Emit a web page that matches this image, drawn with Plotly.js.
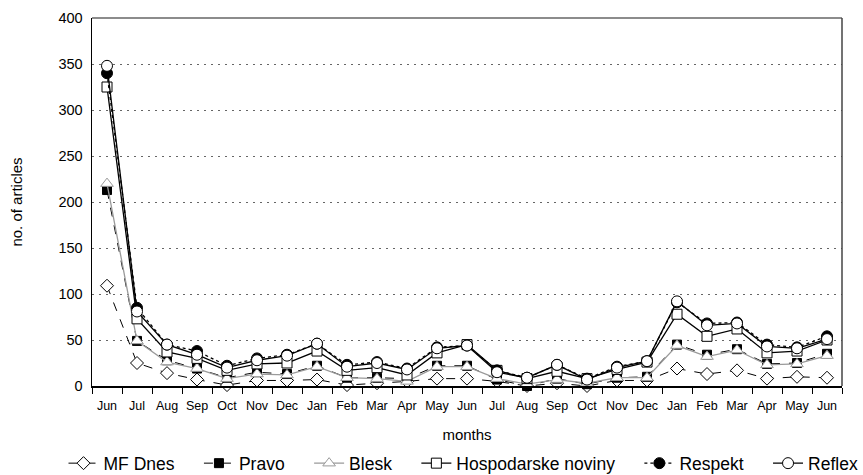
<!DOCTYPE html>
<html>
<head>
<meta charset="utf-8">
<script src="https://cdn.plot.ly/plotly-3.0.1.min.js"></script>
<style>html,body{margin:0;padding:0;background:#fff;}#chart{width:863px;height:475px;}</style>
</head>
<body>
<div id="chart"></div>
<script>
var months = ["Jun","Jul","Aug","Sep","Oct","Nov","Dec","Jan","Feb","Mar","Apr","May","Jun","Jul","Aug","Sep","Oct","Nov","Dec","Jan","Feb","Mar","Apr","May","Jun"];
var seriesNames = ["MF Dnes","Pravo","Blesk","Hospodarske noviny","Respekt","Reflex"];
var mfDnes   = [109, 25, 14, 7, 1, 6, 6, 7, 1, 3, 5, 8, 8, 5, 0, 3, 0, 6, 6, 19, 13, 17, 8, 10, 9];
var pravo    = [213, 49, 28, 19, 9, 15, 13, 22, 9, 9, 8, 22, 22, 7, 0, 8, 2, 9, 10, 45, 34, 40, 24, 25, 35];
var blesk    = [220, 49, 26, 19, 8, 13, 12, 21, 9, 8, 5, 21, 21, 8, 2, 7, 3, 9, 9, 44, 32, 39, 23, 24, 33];
var hosp     = [325, 73, 37, 30, 17, 24, 25, 38, 17, 20, 12, 36, 45, 17, 8, 16, 8, 18, 26, 78, 54, 62, 36, 38, 50];
var respekt  = [340, 85, 45, 38, 22, 30, 34, 46, 23, 26, 19, 42, 44, 17, 9, 23, 8, 21, 27, 91, 68, 69, 45, 42, 54];
var reflex   = [348, 81, 45, 34, 20, 28, 33, 46, 21, 25, 18, 41, 44, 15, 9, 23, 7, 20, 27, 92, 66, 68, 43, 41, 51];

var xIdx = months.map(function(m, i){ return i; });
var pad = '\u00a0\u00a0\u00a0\u00a0';

function tr(i, y, line, marker){
  return {type:'scatter', mode:'lines+markers', name:seriesNames[i] + (i < 5 ? pad : ''), x:xIdx, y:y, line:line, marker:marker, cliponaxis:false};
}
var data = [
  tr(0, mfDnes, {color:'#000', width:1, dash:'dash'}, {symbol:'diamond', size:10, color:'#fff', line:{color:'#000', width:1}}),
  tr(1, pravo, {color:'#000', width:1, dash:'dash'}, {symbol:'square', size:9, color:'#000', line:{color:'#000', width:1}}),
  tr(2, blesk, {color:'#9a9a9a', width:1.3}, {symbol:'triangle-up', size:11, color:'#fff', line:{color:'#9a9a9a', width:1}}),
  tr(3, hosp, {color:'#000', width:1.3}, {symbol:'square', size:10, color:'#fff', line:{color:'#000', width:1}}),
  tr(4, respekt, {color:'#000', width:1.3, dash:'dot'}, {symbol:'circle', size:11, color:'#000', line:{color:'#000', width:1}}),
  tr(5, reflex, {color:'#000', width:1.3}, {symbol:'circle', size:11, color:'#fff', line:{color:'#000', width:1}})
];

var layout = {
  width:863, height:475,
  margin:{l:92, r:21, t:18, b:89, autoexpand:false},
  paper_bgcolor:'#fff', plot_bgcolor:'#fff',
  font:{family:'Liberation Sans, Arial, sans-serif', color:'#000', size:13},
  showlegend:true,
  legend:{orientation:'h', x:-0.038, xanchor:'left', y:-0.21, yanchor:'middle', font:{size:17.5}, itemwidth:30, tracegroupgap:0},
  xaxis:{
    range:[-0.5, 24.5], tickmode:'array', tickvals:xIdx, ticktext:months,
    ticks:'', showgrid:false, zeroline:false,
    showline:true, linecolor:'#000', linewidth:1.5,
    tickfont:{size:12.5}, ticklabelstandoff:7,
    minor:{tickmode:'linear', tick0:-0.5, dtick:1, ticks:'outside', ticklen:6, tickcolor:'#000', tickwidth:1, showgrid:false},
    title:{text:'months', font:{size:15}, standoff:18}
  },
  yaxis:{
    range:[0, 400], dtick:50, ticks:'', showline:true, linecolor:'#000', linewidth:1.5,
    showgrid:true, gridcolor:'#666', griddash:'2px,5px', gridwidth:1, zeroline:false,
    tickfont:{size:14.5}, ticklabelstandoff:5,
    title:{text:'no. of articles', font:{size:15}, standoff:32}
  },
  shapes:[
    {type:'line', xref:'paper', yref:'paper', x0:0, x1:1, y0:1, y1:1, line:{color:'#666', width:1.5}},
    {type:'line', xref:'paper', yref:'paper', x0:1, x1:1, y0:0, y1:1, line:{color:'#444', width:1.5}}
  ]
};
Plotly.newPlot('chart', data, layout, {displayModeBar:false, staticPlot:true});
</script>
</body>
</html>
